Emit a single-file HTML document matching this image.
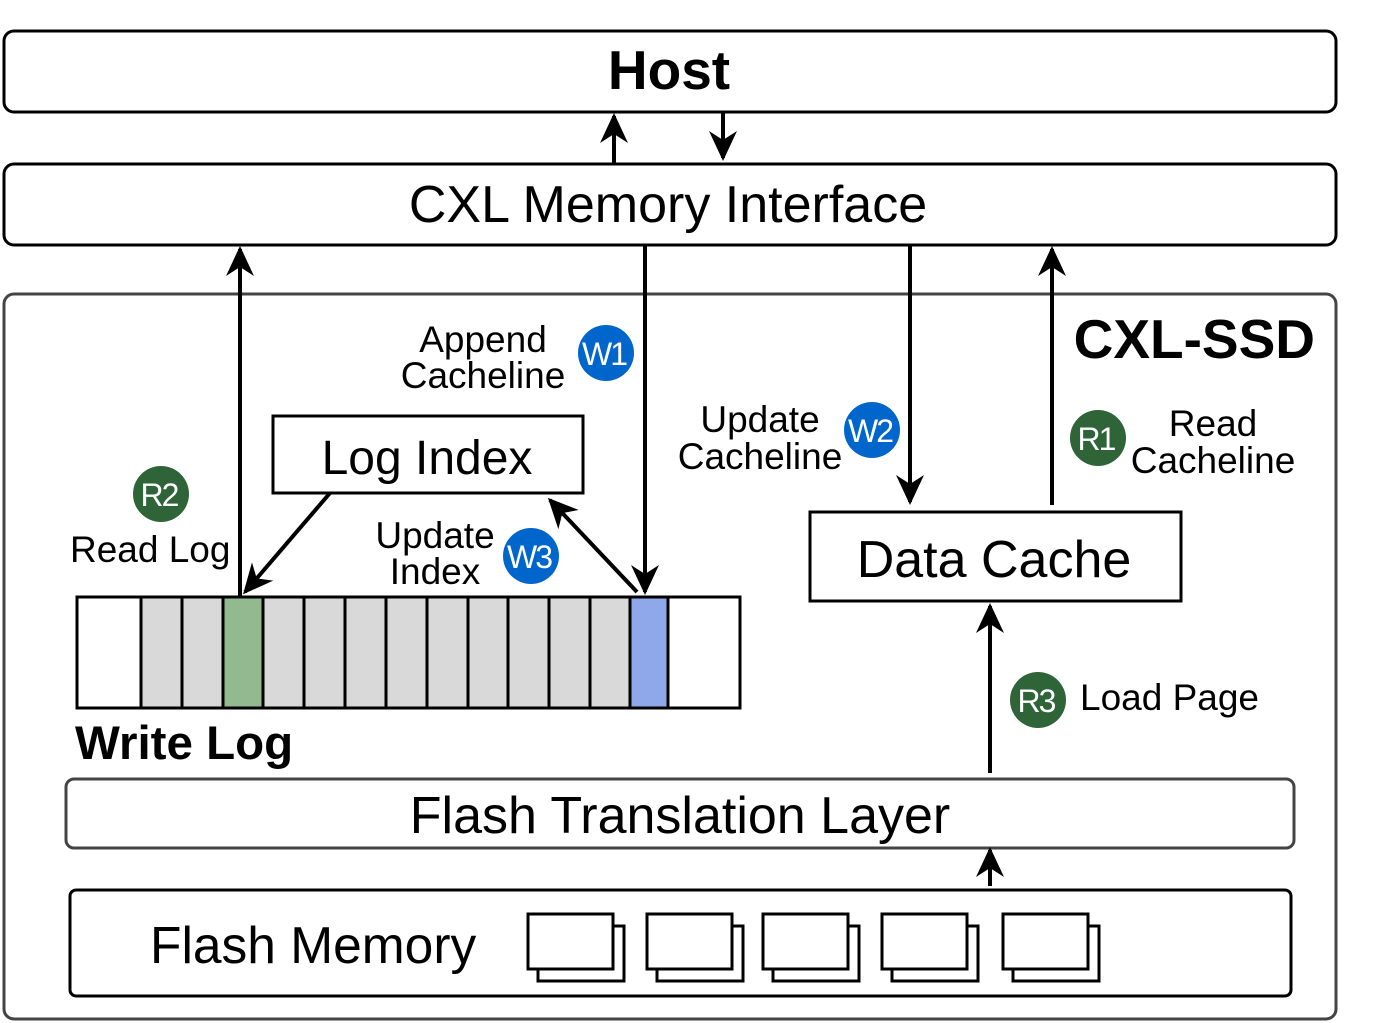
<!DOCTYPE html>
<html><head><meta charset="utf-8"><style>body{margin:0;background:#fff}svg{display:block}text{font-family:"Liberation Sans",Arial,sans-serif}</style></head><body>
<svg width="1379" height="1023" viewBox="0 0 1379 1023" xmlns="http://www.w3.org/2000/svg">
<defs>
<marker id="a" markerWidth="30" markerHeight="28" refX="27" refY="14" orient="auto" markerUnits="userSpaceOnUse" viewBox="0 0 30 28"><path d="M0,0 L30,14 L0,28 L9,14 Z" fill="#000"/></marker>
</defs>
<g fill="none" stroke="#000" stroke-width="3">
<rect x="4" y="31" width="1332" height="81" rx="10"/>
<rect x="4" y="164" width="1332" height="81" rx="10"/>
<rect x="4" y="294" width="1332" height="725" rx="10" stroke="#444"/>
<rect x="273" y="416" width="310" height="77"/>
<rect x="810" y="512" width="371" height="89"/>
<rect x="66" y="779" width="1228" height="69" rx="8" stroke="#444"/>
<rect x="70" y="890" width="1221" height="106" rx="6"/>
</g>
<g font-size="52" text-anchor="middle">
<text x="669" y="89" font-weight="bold" font-size="55">Host</text>
<text x="668" y="222">CXL Memory Interface</text>
<text x="427" y="474" font-size="48">Log Index</text>
<text x="994" y="577">Data Cache</text>
<text x="680" y="833">Flash Translation Layer</text>
</g>
<text x="150" y="963" font-size="51.5">Flash Memory</text>
<text x="1315" y="358" font-size="55" font-weight="bold" text-anchor="end">CXL-SSD</text>
<text x="75" y="759" font-size="47.5" font-weight="bold">Write Log</text>
<!-- write log -->
<g stroke="#000" stroke-width="3">
<rect x="77" y="597" width="663" height="111" fill="#fff"/>
<rect x="141" y="597" width="489" height="111" fill="#d9d9d9"/>
<rect x="223" y="597" width="40" height="111" fill="#93b991"/>
<rect x="630" y="597" width="38" height="111" fill="#8fa8ea"/>
<path d="M182,597V708M304,597V708M345,597V708M386,597V708M427,597V708M468,597V708M508,597V708M549,597V708M590,597V708"/>
</g>
<!-- arrows -->
<g stroke="#000" stroke-width="4" fill="none">
<line x1="614" y1="164" x2="614" y2="116" marker-end="url(#a)"/>
<line x1="723" y1="112" x2="723" y2="158" marker-end="url(#a)"/>
<line x1="240" y1="597" x2="240" y2="249" marker-end="url(#a)"/>
<line x1="645" y1="245" x2="645" y2="592" marker-end="url(#a)"/>
<line x1="910" y1="245" x2="910" y2="502" marker-end="url(#a)"/>
<line x1="1052" y1="505" x2="1052" y2="249" marker-end="url(#a)"/>
<line x1="990" y1="773" x2="990" y2="606" marker-end="url(#a)"/>
<line x1="990" y1="886" x2="990" y2="850" marker-end="url(#a)"/>
<line x1="330" y1="493" x2="245" y2="592" marker-end="url(#a)"/>
<line x1="637" y1="592" x2="550" y2="500" marker-end="url(#a)"/>
</g>
<!-- chips -->
<g fill="#fff" stroke="#000" stroke-width="3">
<rect x="538" y="926" width="86" height="55"/><rect x="528" y="914" width="85" height="55"/>
<rect x="657" y="926" width="86" height="55"/><rect x="647" y="914" width="85" height="55"/>
<rect x="773" y="926" width="86" height="55"/><rect x="763" y="914" width="85" height="55"/>
<rect x="892" y="926" width="86" height="55"/><rect x="882" y="914" width="85" height="55"/>
<rect x="1013" y="926" width="86" height="55"/><rect x="1003" y="914" width="85" height="55"/>
</g>
<!-- badges -->
<g>
<circle cx="606" cy="353" r="28" fill="#0066cc"/><circle cx="872" cy="430" r="28" fill="#0066cc"/><circle cx="531" cy="556" r="28" fill="#0066cc"/>
<circle cx="1098" cy="438" r="28" fill="#2e6437"/><circle cx="161" cy="494" r="28" fill="#2e6437"/><circle cx="1038" cy="700" r="28" fill="#2e6437"/>
</g>
<g fill="#fff" font-size="32" text-anchor="middle" letter-spacing="-2">
<text x="604" y="365">W1</text><text x="870" y="442">W2</text><text x="529" y="568">W3</text>
<text x="1096" y="450">R1</text><text x="159" y="506">R2</text><text x="1036" y="712">R3</text>
</g>
<g font-size="37" text-anchor="middle">
<text x="483" y="352">Append</text><text x="483" y="388">Cacheline</text>
<text x="760" y="432">Update</text><text x="760" y="469">Cacheline</text>
<text x="1213" y="436">Read</text><text x="1213" y="473">Cacheline</text>
<text x="435" y="548">Update</text><text x="435" y="584">Index</text>
</g>
<text x="70" y="562" font-size="37">Read Log</text>
<text x="1080" y="710" font-size="37">Load Page</text>
</svg>
</body></html>
